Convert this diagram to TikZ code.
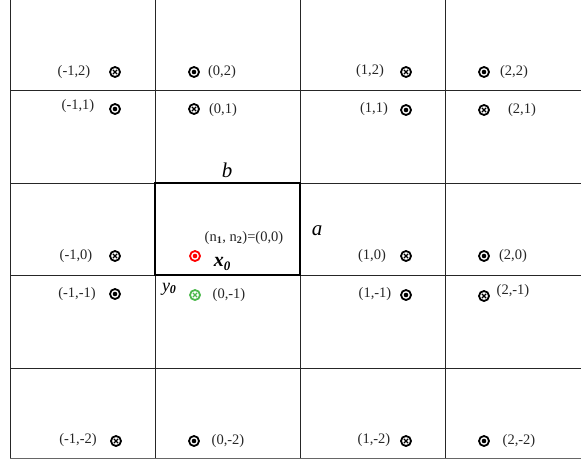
\documentclass[tikz,border=0pt]{standalone}
\usepackage{fontspec}
\setmainfont{Liberation Serif}
\begin{document}
\begin{tikzpicture}[x=1pt,y=-1pt,
  grid/.style={line width=0.9pt,draw=black!85},
  thick box/.style={line width=2pt,draw=black},
  sym/.style={circle,draw=#1,line width=1.8pt,minimum size=10pt,inner sep=0pt},
  sym/.default=black,
  dotsym/.style={sym=#1,path picture={\fill[#1] (path picture bounding box.center) circle (2.3pt);}},
  dotsym/.default=black,
  crosssym/.style={sym=#1,path picture={
     \draw[#1,line width=1.4pt] ([shift={(-2.1pt,-2.1pt)}]path picture bounding box.center) -- ([shift={(2.1pt,2.1pt)}]path picture bounding box.center);
     \draw[#1,line width=1.4pt] ([shift={(-2.1pt,2.1pt)}]path picture bounding box.center) -- ([shift={(2.1pt,-2.1pt)}]path picture bounding box.center);}},
  crosssym/.default=black,
  lab/.style={font=\fontsize{14.5}{16}\selectfont,inner sep=0pt,text=black!85},
  big/.style={font=\fontsize{21}{24}\selectfont\itshape,inner sep=0pt}
]
\useasboundingbox (0,0) rectangle (581,463);
% grid
\foreach \x in {10,155,300,445} \draw[grid] (\x,0) -- (\x,458);
\foreach \y in {90,183,275,368} \draw[grid] (10,\y) -- (581,\y);
\draw[grid,draw=black!60] (10,458) -- (581,458);
\draw[thick box] (155,183) rectangle (300,275);
% row 2
\node[lab] (l-12) at (74,72) {(-1,2)};
\node[crosssym] (s-12) at (115,72) {};
\node[dotsym] (s02) at (194,72) {};
\node[lab] (l02) at (222,72) {(0,2)};
\node[lab] (l12) at (370,71) {(1,2)};
\node[crosssym] (s12) at (406,72) {};
\node[dotsym] (s22) at (484,72) {};
\node[lab] (l22) at (514,72) {(2,2)};
% row 1
\node[lab] (l-11) at (78,106) {(-1,1)};
\node[dotsym] (s-11) at (115,109) {};
\node[crosssym] (s01) at (194,109) {};
\node[lab] (l01) at (223,110) {(0,1)};
\node[lab] (l11) at (374,109) {(1,1)};
\node[dotsym] (s11) at (406,110) {};
\node[crosssym] (s21) at (484,110) {};
\node[lab] (l21) at (522,110) {(2,1)};
% row 0
\node[lab] (l-10) at (76,256) {(-1,0)};
\node[crosssym] (s-10) at (115,256) {};
\node[lab] (l10) at (372,256) {(1,0)};
\node[crosssym] (s10) at (406,256) {};
\node[dotsym] (s20) at (484,256) {};
\node[lab] (l20) at (513,256) {(2,0)};
% center cell
\node[big] (b) at (227,170) {b};
\node[big] (a) at (317,231) {a};
\node[lab] (n) at (244,238) {(n\textsubscript{\textbf{1}}, n\textsubscript{\textbf{2}})=(0,0)};
\node[dotsym=red] (s00) at (195,256) {};
\node[font=\fontsize{20}{22}\selectfont\bfseries\itshape,inner sep=0pt] (x0) at (222,264) {x\raisebox{-0.35ex}{\fontsize{13}{14}\selectfont 0}};
\node[font=\fontsize{18}{20}\selectfont\itshape,inner sep=0pt] (y0) at (169,289) {y\raisebox{-0.3ex}{\fontsize{12}{13}\selectfont\bfseries 0}};
% row -1
\node[lab] (l-1-1) at (77,294) {(-1,-1)};
\node[dotsym] (s-1-1) at (115,294) {};
\node[crosssym=green!60!black!70] (s0-1) at (195,295) {};
\node[lab] (l0-1) at (229,295) {(0,-1)};
\node[lab] (l1-1) at (375,294) {(1,-1)};
\node[dotsym] (s1-1) at (406,295) {};
\node[crosssym] (s2-1) at (484,296) {};
\node[lab] (l2-1) at (513,291) {(2,-1)};
% row -2
\node[lab] (l-1-2) at (78,440) {(-1,-2)};
\node[crosssym] (s-1-2) at (116,441) {};
\node[dotsym] (s0-2) at (194,441) {};
\node[lab] (l0-2) at (228,441) {(0,-2)};
\node[lab] (l1-2) at (374,440) {(1,-2)};
\node[crosssym] (s1-2) at (406,441) {};
\node[dotsym] (s2-2) at (484,441) {};
\node[lab] (l2-2) at (519,441) {(2,-2)};
\end{tikzpicture}
\end{document}
